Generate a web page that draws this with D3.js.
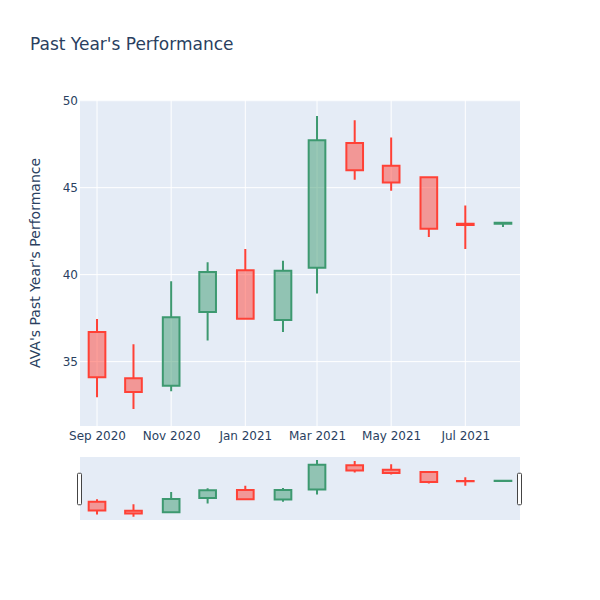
<!DOCTYPE html>
<html>
<head>
<meta charset="utf-8">
<script src="https://cdn.jsdelivr.net/npm/d3@7"></script>
<style>
  html, body { margin: 0; padding: 0; background: #fff; }
  svg { display: block; font-family: "DejaVu Sans", Verdana, sans-serif; }
</style>
</head>
<body>
<div id="chart"></div>
<script>
// ---- data ----
const dates = ["2020-09-01","2020-10-01","2020-11-01","2020-12-01","2021-01-01","2021-02-01",
               "2021-03-01","2021-04-01","2021-05-01","2021-06-01","2021-07-01","2021-08-01"];
const openVals  = [36.70, 34.05, 33.62, 37.85, 40.25, 37.40, 40.40, 47.57, 46.26, 45.60, 42.92, 42.93];
const highVals  = [37.45, 36.00, 39.62, 40.72, 41.47, 40.80, 49.12, 48.87, 47.88, 45.60, 43.98, 42.98];
const lowVals   = [32.95, 32.28, 33.30, 36.21, 37.45, 36.71, 38.91, 45.46, 44.83, 42.17, 41.48, 42.74];
const closeVals = [34.10, 33.25, 37.55, 40.15, 37.47, 40.22, 47.72, 46.00, 45.30, 42.64, 42.85, 42.98];
const xTickDates = ["2020-09-01","2020-11-01","2021-01-01","2021-03-01","2021-05-01","2021-07-01"];
const xTickLabels = ["Sep 2020","Nov 2020","Jan 2021","Mar 2021","May 2021","Jul 2021"];
const yTicks = [35, 40, 45, 50];
const titleText = "Past Year's Performance";
const yTitleText = "AVA's Past Year's Performance";

// ---- layout ----
const W = 600, H = 600;
const plotL = 80, plotR = 520, plotT = 100, plotB = 426;
const slT = 457, slB = 520;
const DAY = 864e5;
const parse = d3.utcParse("%Y-%m-%d");
const pd = dates.map(parse);
const padDays = 14;
const halfBox = 6.86 * DAY;

const incColor = "#3D9970", decColor = "#FF4136";
const incFill = "rgba(61,153,112,0.5)", decFill = "rgba(255,65,54,0.5)";
const textColor = "#2a3f5f";
const bg = "#E5ECF6";

const x = d3.scaleUtc()
  .domain([new Date(+pd[0] - padDays * DAY), new Date(+pd[pd.length - 1] + padDays * DAY)])
  .range([plotL, plotR]);
const yDomain = [31.3, 50.04];
const y = d3.scaleLinear().domain(yDomain).range([plotB, plotT]);
const ys = d3.scaleLinear().domain(yDomain).range([slB, slT]);

const svg = d3.select("#chart").append("svg").attr("width", W).attr("height", H);
svg.append("rect").attr("width", W).attr("height", H).attr("fill", "#fff");

// main plot bg
svg.append("rect").attr("x", plotL).attr("y", plotT)
  .attr("width", plotR - plotL).attr("height", plotB - plotT).attr("fill", bg);

// gridlines
const xt = xTickDates.map(parse);
svg.append("g").selectAll("line").data(xt).join("line")
  .attr("x1", d => x(d)).attr("x2", d => x(d))
  .attr("y1", plotT).attr("y2", plotB)
  .attr("stroke", "#fff").attr("stroke-width", 1);
svg.append("g").selectAll("line").data(yTicks).join("line")
  .attr("x1", plotL).attr("x2", plotR)
  .attr("y1", d => y(d)).attr("y2", d => y(d))
  .attr("stroke", "#fff").attr("stroke-width", 1);

// axes (labels only)
const xAxis = d3.axisBottom(x).tickValues(xt).tickSize(0).tickPadding(5)
  .tickFormat((d, i) => xTickLabels[i]);
const gx = svg.append("g").attr("transform", `translate(0,${plotB})`).call(xAxis);
gx.select(".domain").remove();
gx.selectAll("text").attr("fill", textColor).attr("font-size", 12)
  .attr("font-family", "DejaVu Sans, Verdana, sans-serif");

const yAxis = d3.axisLeft(y).tickValues(yTicks).tickSize(0).tickPadding(2);
const gy = svg.append("g").attr("transform", `translate(${plotL},0)`).call(yAxis);
gy.select(".domain").remove();
gy.selectAll("text").attr("fill", textColor).attr("font-size", 12)
  .attr("font-family", "DejaVu Sans, Verdana, sans-serif");

// candles
const data = pd.map((d, i) => ({
  date: d, open: openVals[i], high: highVals[i], low: lowVals[i], close: closeVals[i],
  inc: closeVals[i] >= openVals[i]
}));

function candlePath(d, ysc) {
  const xc = x(d.date);
  const x0 = x(new Date(+d.date - halfBox)), x1 = x(new Date(+d.date + halfBox));
  const top = ysc(Math.max(d.open, d.close)), bot = ysc(Math.min(d.open, d.close));
  return `M${x0},${bot}H${x1}V${top}H${x0}Z` +
         `M${xc},${bot}V${ysc(d.low)}M${xc},${top}V${ysc(d.high)}`;
}

function drawCandles(g, ysc) {
  g.selectAll("path").data(data).join("path")
    .attr("d", d => candlePath(d, ysc))
    .attr("fill", d => d.inc ? incFill : decFill)
    .attr("stroke", d => d.inc ? incColor : decColor)
    .attr("stroke-width", 2);
}

const clipMain = svg.append("clipPath").attr("id", "clipMain");
clipMain.append("rect").attr("x", plotL).attr("y", plotT).attr("width", plotR - plotL).attr("height", plotB - plotT);
drawCandles(svg.append("g").attr("clip-path", "url(#clipMain)"), y);

// range slider
svg.append("rect").attr("x", plotL).attr("y", slT)
  .attr("width", plotR - plotL).attr("height", slB - slT).attr("fill", bg);
const clipSl = svg.append("clipPath").attr("id", "clipSl");
clipSl.append("rect").attr("x", plotL).attr("y", slT).attr("width", plotR - plotL).attr("height", slB - slT);
drawCandles(svg.append("g").attr("clip-path", "url(#clipSl)"), ys);

// handles
const hh = (slB - slT) / 2;
[plotL - 2, plotR - 2].forEach(hx => {
  svg.append("rect").attr("x", hx - 0.5).attr("y", slT + hh / 2 + 0.5)
    .attr("width", 4).attr("height", hh)
    .attr("fill", "#fff").attr("stroke", "#444").attr("stroke-width", 1)
    .attr("rx", 1).attr("ry", 1);
});

// titles
svg.append("text").attr("x", 30).attr("y", 50).text(titleText)
  .attr("fill", textColor).attr("font-size", 17);
svg.append("text")
  .attr("transform", `translate(40,${(plotT + plotB) / 2}) rotate(-90)`)
  .attr("text-anchor", "middle").text(yTitleText)
  .attr("fill", textColor).attr("font-size", 14);
</script>
</body>
</html>
